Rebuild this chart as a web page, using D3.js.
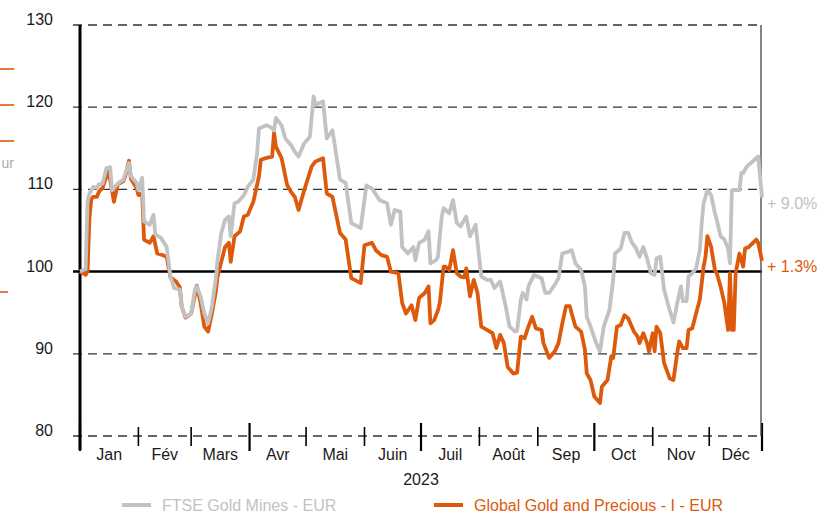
<!DOCTYPE html>
<html>
<head>
<meta charset="utf-8">
<script src="https://cdn.jsdelivr.net/npm/d3@7"></script>
<style>
  body { margin: 0; background: #fff; }
  svg text { font-family: "Liberation Sans", Arial, sans-serif; }
</style>
</head>
<body>
<div id="chart"></div>
<script>
// values (base 100 on 1 Jan 2023), day = day of year
var ftseDays = [0,3,4,5,7,9,10,12,14,16,17,20,23,24,26,27,30,31,33,34,37,39,40,43,46,48,50,53,54,56,59,61,62,64,66,68,70,72,73,75,77,79,80,82,84,87,89,92,94,95,99,101,103,104,107,109,112,114,116,119,122,124,125,129,131,134,138,141,144,149,152,155,159,163,165,167,170,171,174,177,178,180,183,185,186,189,190,192,193,196,198,200,202,205,207,210,213,216,218,220,223,224,226,228,231,232,234,235,237,238,241,245,247,249,252,254,256,259,261,263,266,268,269,271,274,276,278,281,283,284,287,289,291,293,295,297,299,301,303,305,306,308,310,313,315,317,319,320,322,323,325,327,329,330,331,333,335,337,338,340,342,344,345,346,348,350,351,352,354,357,360,362];
var ftseValues = [100,100.3,108.5,109.5,110.3,110.2,110.6,110.7,112.6,112.7,109.9,110.7,111.2,111.9,113.2,111.6,110.8,109.9,111.4,106.1,105.7,106.9,104.5,104.1,103,99.4,98,97.8,95.7,94.5,94.9,97.8,98.2,97,94.9,93.7,95.7,99,101.4,104.7,106.3,106.7,104.3,108.3,108.5,109.3,110.3,111.2,114.4,117.4,117.8,117.6,117.2,118.7,117.8,116.2,115.4,114.6,114,115.6,116.4,121.3,120.3,120.7,116.2,117.2,111.2,110.8,105.9,105.3,110.5,110.1,108.7,108.3,105.7,107.5,107.3,103,102.2,103,101.4,103.5,103.9,104.9,101,101.4,101.8,106.7,107.7,107.1,108.7,105.9,105.5,106.7,104.3,105.7,99.4,99,99,98,98.8,97.8,95.7,93.3,92.7,92.8,96.6,97.4,96.6,98.2,99.6,99.2,97.4,97.4,98.4,99.2,102.2,102.4,102.6,101,100.2,98.2,94.5,93.3,91.3,90.3,93.3,95.3,99,102.2,102.8,104.7,104.7,103.5,102.9,101.8,103,101.6,99.8,99.6,101.6,101.8,97.8,95.3,93.8,96.2,98.2,96.4,96.4,99.4,99.8,100.4,102.6,105.9,108.3,109.9,109.3,107.1,106.3,104.3,103.9,102.8,101,109.9,109.9,109.9,112,112,112.8,113.4,114,109];

var globalDays = [0,3,4,5,6,7,9,10,12,15,16,18,20,23,24,26,27,30,31,33,34,37,39,41,44,46,48,51,53,54,56,59,62,64,66,68,70,72,73,75,77,79,80,82,85,87,89,92,95,96,100,102,103,104,107,110,112,114,116,119,123,125,129,131,134,138,141,144,149,151,155,157,160,163,165,169,171,173,176,178,180,183,185,186,188,190,191,193,194,196,198,200,202,204,205,207,209,211,213,216,219,221,223,225,227,230,232,234,236,238,240,242,245,246,249,252,254,256,258,260,261,263,266,268,269,271,273,276,277,280,282,283,285,287,289,291,294,296,297,299,301,302,304,305,306,308,310,313,315,317,318,320,322,323,325,327,329,331,332,333,335,337,338,340,342,344,345,346,347,348,350,352,353,355,359,360,362];
var globalValues = [100,99.6,100,106.5,108.8,109.1,109.1,109.7,110.2,112.2,111.2,108.5,110.6,111,111.6,113.5,111.3,110.2,109.3,109.5,103.9,103.5,104.3,102.2,102,101.8,99.3,98.8,98.1,95.7,94.4,94.9,98.3,96.2,93.3,92.7,94.9,97.4,99.4,101.2,103,103.5,101.2,104.3,104.9,106.7,106.9,108.5,111.6,113.6,113.9,114,116.9,115.2,113.8,110.5,109.7,109.1,107.5,109.9,112.8,113.4,113.8,109.5,109.1,104.7,103.9,99.2,98.6,103.2,103.5,102.6,102,101.8,100,99.8,96.2,94.9,95.9,94.1,96.8,97.4,98.2,93.7,94.1,95.3,96.2,100.6,100.6,100.2,102.6,99.8,99.4,99.3,100.4,97,99,97.4,93.3,92.9,92.5,90.7,92.3,91.3,88.4,87.6,87.7,92.1,91.9,93.3,94.5,93.1,92.9,91.3,89.5,90.3,91.3,93.7,95.8,95.8,94.9,93.3,92.7,90.5,87.6,86.8,84.8,84,86,86.8,89.7,89.5,93.3,93.5,94.7,94.3,92.7,92.1,91.3,92.5,91.3,90.3,92.5,90.3,93.3,92.5,88.9,87,86.8,90.1,91.5,90.7,90.7,92.9,93.1,94.9,96.6,100.6,101.8,104.3,103,100.2,99.8,98.2,96.2,92.9,99.8,92.9,92.9,99.8,102.2,100.6,102.8,103,103.9,103.5,101.3];

var yTicks = [80, 90, 100, 110, 120, 130];
var monthLabels = ["Jan", "Fév", "Mars", "Avr", "Mai", "Juin", "Juil", "Août", "Sep", "Oct", "Nov", "Déc"];
var yearLabel = "2023";
var seriesNames = ["FTSE Gold Mines - EUR", "Global Gold and Precious - I - EUR"];
var endLabels = ["+ 9.0%", "+ 1.3%"];

var grey = "#c2c2c2", orange = "#dd5a0c";

var width = 821, height = 517;
var plotLeft = 80, plotRight = 762, plotTop = 25, plotBottom = 436;

var start = new Date(2023, 0, 1);
var end = new Date(2023, 11, 29);
var toDate = function(d) { return d3.timeDay.offset(start, d); };

var x = d3.scaleTime().domain([start, end]).range([plotLeft, plotRight]);
var y = d3.scaleLinear().domain([80, 130]).range([plotBottom, plotTop]);

var svg = d3.select("#chart").append("svg")
  .attr("width", width)
  .attr("height", height);

// bits of a cropped neighbouring legend on the far left
[69, 105, 141].forEach(function(py) {
  svg.append("line").attr("x1", 0).attr("x2", 14).attr("y1", py).attr("y2", py)
    .attr("stroke", orange).attr("stroke-width", 1.6);
});
svg.append("line").attr("x1", 0).attr("x2", 8).attr("y1", 292).attr("y2", 292)
  .attr("stroke", orange).attr("stroke-width", 1.6);
svg.append("text").attr("x", 14).attr("y", 168).attr("text-anchor", "end")
  .style("font-size", "14px").attr("fill", "#aaa").text("ur");

// grid lines
svg.append("g").selectAll("line")
  .data(yTicks)
  .enter().append("line")
  .attr("x1", plotLeft - 7)
  .attr("x2", plotRight)
  .attr("y1", function(d) { return y(d); })
  .attr("y2", function(d) { return y(d); })
  .attr("stroke", function(d) { return d == 100 ? "#000" : "#333"; })
  .attr("stroke-width", function(d) { return d == 100 ? 2.5 : 1.3; })
  .attr("stroke-dasharray", function(d) { return d == 100 ? null : "9,6"; });

// y labels, baseline sits on the grid line
svg.append("g").selectAll("text")
  .data(yTicks)
  .enter().append("text")
  .attr("x", 53)
  .attr("y", function(d) { return y(d); })
  .attr("text-anchor", "end")
  .style("font-size", "16px")
  .attr("fill", "#1a1a1a")
  .text(function(d) { return d; });

// month ticks
var monthStarts = d3.timeMonth.range(start, new Date(2024, 0, 1));
var bounds = monthStarts.concat([end]);
svg.append("g").selectAll("line")
  .data(bounds)
  .enter().append("line")
  .attr("x1", function(d) { return x(d); })
  .attr("x2", function(d) { return x(d); })
  .attr("y1", function(d, i) { return i % 3 == 0 ? plotBottom - 13 : plotBottom - 9; })
  .attr("y2", function(d, i) { return i % 3 == 0 ? plotBottom + 15 : plotBottom + 10; })
  .attr("stroke", "#000")
  .attr("stroke-width", function(d, i) { return i % 3 == 0 ? 2.2 : 1.6; });

svg.append("g").selectAll("text")
  .data(monthLabels)
  .enter().append("text")
  .attr("x", function(d, i) { return (x(bounds[i]) + x(bounds[i + 1])) / 2; })
  .attr("y", plotBottom + 24)
  .attr("text-anchor", "middle")
  .style("font-size", "16px")
  .attr("fill", "#1a1a1a")
  .text(function(d) { return d; });

svg.append("text")
  .attr("x", (plotLeft + plotRight) / 2)
  .attr("y", plotBottom + 49)
  .attr("text-anchor", "middle")
  .style("font-size", "16px")
  .attr("fill", "#1a1a1a")
  .text(yearLabel);

// frame lines
svg.append("line").attr("x1", plotLeft).attr("x2", plotLeft).attr("y1", plotTop).attr("y2", plotBottom + 14)
  .attr("stroke", "#000").attr("stroke-width", 3);
svg.append("line").attr("x1", plotRight - 1).attr("x2", plotRight - 1).attr("y1", plotTop).attr("y2", plotBottom)
  .attr("stroke", "#444").attr("stroke-width", 1.3);

// the two series
var line = d3.line()
  .x(function(d) { return x(toDate(d[0])); })
  .y(function(d) { return y(d[1]); });

var globalData = d3.zip(globalDays, globalValues);
var ftseData = d3.zip(ftseDays, ftseValues);

svg.append("path")
  .attr("d", line(globalData))
  .attr("fill", "none")
  .attr("stroke", orange)
  .attr("stroke-width", 3.8)
  .attr("stroke-linejoin", "round");

svg.append("path")
  .attr("d", line(ftseData))
  .attr("fill", "none")
  .attr("stroke", grey)
  .attr("stroke-width", 3.8)
  .attr("stroke-linejoin", "round");

// end labels
svg.append("text")
  .attr("x", 767)
  .attr("y", y(ftseValues[ftseValues.length - 1]) + 11)
  .style("font-size", "16px")
  .attr("fill", grey)
  .text(endLabels[0]);

svg.append("text")
  .attr("x", 767)
  .attr("y", y(globalValues[globalValues.length - 1]) + 11)
  .style("font-size", "16px")
  .attr("fill", orange)
  .text(endLabels[1]);

// legend
var legend = svg.append("g");
[[122, grey, seriesNames[0]], [434, orange, seriesNames[1]]].forEach(function(l) {
  legend.append("line")
    .attr("x1", l[0]).attr("x2", l[0] + 29)
    .attr("y1", 505).attr("y2", 505)
    .attr("stroke", l[1]).attr("stroke-width", 4);
  legend.append("text")
    .attr("x", l[0] + 40)
    .attr("y", 511)
    .style("font-size", "16px")
    .attr("fill", l[1])
    .text(l[2]);
});
</script>
</body>
</html>
